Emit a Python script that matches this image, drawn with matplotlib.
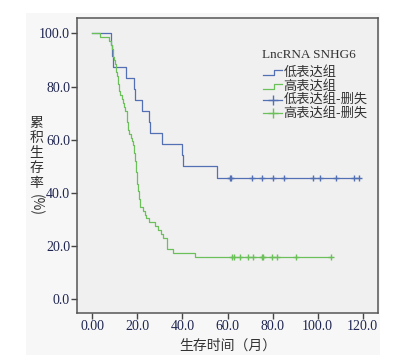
import numpy as np
import matplotlib.pyplot as plt
from matplotlib.patches import Rectangle

plt.rcParams['font.family'] = ['Noto Sans CJK SC', 'DejaVu Sans']

# survival data (months)
low_death = [8.2, 8.7, 9.3, 14.8, 18.5, 19.0, 22.0, 25.0, 25.6, 30.8, 39.7, 40.4, 55.2]
low_cens = [61.1, 61.7, 70.7, 75.2, 80.2, 85.1, 98.1, 101.2, 108.3, 116.2, 118.3]

high_death = [3.2, 7.6, 8.3, 8.7, 9.0, 9.3, 9.6, 10.0, 10.3, 10.6,
              11.0, 11.3, 11.5, 11.8, 12.0, 12.5, 13.0, 13.6, 14.0, 14.6,
              15.3, 15.5, 15.6, 15.7, 15.8, 16.5, 17.2, 17.6, 18.1, 18.4,
              18.6, 18.8, 19.0, 19.2, 19.3, 19.5, 19.7, 19.9, 20.0, 20.2,
              20.4, 20.6, 20.8, 21.0, 21.2, 22.4, 23.3, 24.0, 25.2, 28.0,
              29.0, 30.3, 31.5, 33.0, 33.0, 33.1, 35.8, 45.6]
high_cens = [62.1, 62.9, 65.6, 69.3, 71.2, 75.2, 75.6, 79.9, 81.8, 90.3, 105.8]

blue = '#5470b4'
green = '#6cc05a'


def km_curve(deaths, cens):
    times = sorted([(t, 1) for t in deaths] + [(t, 0) for t in cens])
    n = len(times)
    s = 1.0
    xs, ys = [0.0], [100.0]
    cx, cy = [], []
    for t, e in times:
        if e:
            s *= (n - 1) / n
            xs.append(t)
            ys.append(s * 100)
        else:
            cx.append(t)
            cy.append(s * 100)
        n -= 1
    xs.append(times[-1][0])
    ys.append(ys[-1])
    return xs, ys, cx, cy


fig = plt.figure(figsize=(4.03, 3.61), dpi=100)
fig.patches.append(Rectangle((26 / 403, 1 - 355 / 361), 354 / 403, 342 / 361,
                             transform=fig.transFigure, facecolor='#f7f7f7',
                             edgecolor='none', zorder=-1))
ax = fig.add_axes([77 / 403, 1 - 313 / 361, 301 / 403, 295 / 361])
ax.set_facecolor('#f0f0f0')

for d, c, col in [(low_death, low_cens, blue), (high_death, high_cens, green)]:
    xs, ys, cx, cy = km_curve(d, c)
    ax.step(xs, ys, where='post', color=col, lw=0.9)
    ax.plot(cx, cy, '+', color=col, ms=5, mew=1.0)

ax.set_xlim(-6.8, 126.8)
ax.set_ylim(-5.1, 105.8)
ax.set_xticks([0, 20, 40, 60, 80, 100, 120])
ax.set_xticklabels(['0.00', '20.0', '40.0', '60.0', '80.0', '100.0', '120.0'],
                   family='Liberation Serif', fontsize=10, color='#1e2550')
ax.set_yticks([0, 20, 40, 60, 80, 100])
ax.set_yticklabels(['0.0', '20.0', '40.0', '60.0', '80.0', '100.0'],
                   family='Liberation Serif', fontsize=10, color='#1e2550')
ax.tick_params(direction='out', length=4, width=1, color='#444444', pad=1)
for sp in ax.spines.values():
    sp.set_color('#555555')
    sp.set_linewidth(1.1)

# axis titles
ax.set_xlabel('生存时间（月）', fontsize=10, color='#333333', labelpad=4)
for ch, py in zip('累积生存率', [123, 138, 153, 168, 183]):
    fig.text(36 / 403, 1 - py / 361, ch, fontsize=10, color='#333333',
             ha='center', va='center')
fig.text(36 / 403, 1 - 205 / 361, '(%)', fontsize=10, color='#333333',
         ha='center', va='center', rotation=-90)

# legend drawn in axes coordinates
def ax_x(px):
    return (px - 77) / 301


def ax_y(py):
    return (313 - py) / 295


ax.text(ax_x(262), ax_y(55), 'LncRNA SNHG6', family='Liberation Serif',
        fontsize=9.5, color='#333333', va='center', transform=ax.transAxes)
labels = ['低表达组', '高表达组', '低表达组-删失', '高表达组-删失']
rows = [72.7, 86.5, 99.7, 113.3]
cols = [blue, green, blue, green]
for i, (lab, ry, col) in enumerate(zip(labels, rows, cols)):
    if i < 2:
        hx = [ax_x(263), ax_x(274), ax_x(274), ax_x(282)]
        hy = [ax_y(ry + 2.5), ax_y(ry + 2.5), ax_y(ry - 2.5), ax_y(ry - 2.5)]
        ax.plot(hx, hy, color=col, lw=0.9, transform=ax.transAxes, clip_on=False)
    else:
        ax.plot([ax_x(263), ax_x(282)], [ax_y(ry), ax_y(ry)], color=col, lw=0.9,
                transform=ax.transAxes)
        ax.plot([ax_x(272.5)], [ax_y(ry)], '+', color=col, ms=7, mew=1.0,
                transform=ax.transAxes)
    ax.text(ax_x(283.5), ax_y(ry), lab, fontsize=9.5, color='#333333',
            va='center', transform=ax.transAxes)

fig.savefig('out.png', dpi=100)
